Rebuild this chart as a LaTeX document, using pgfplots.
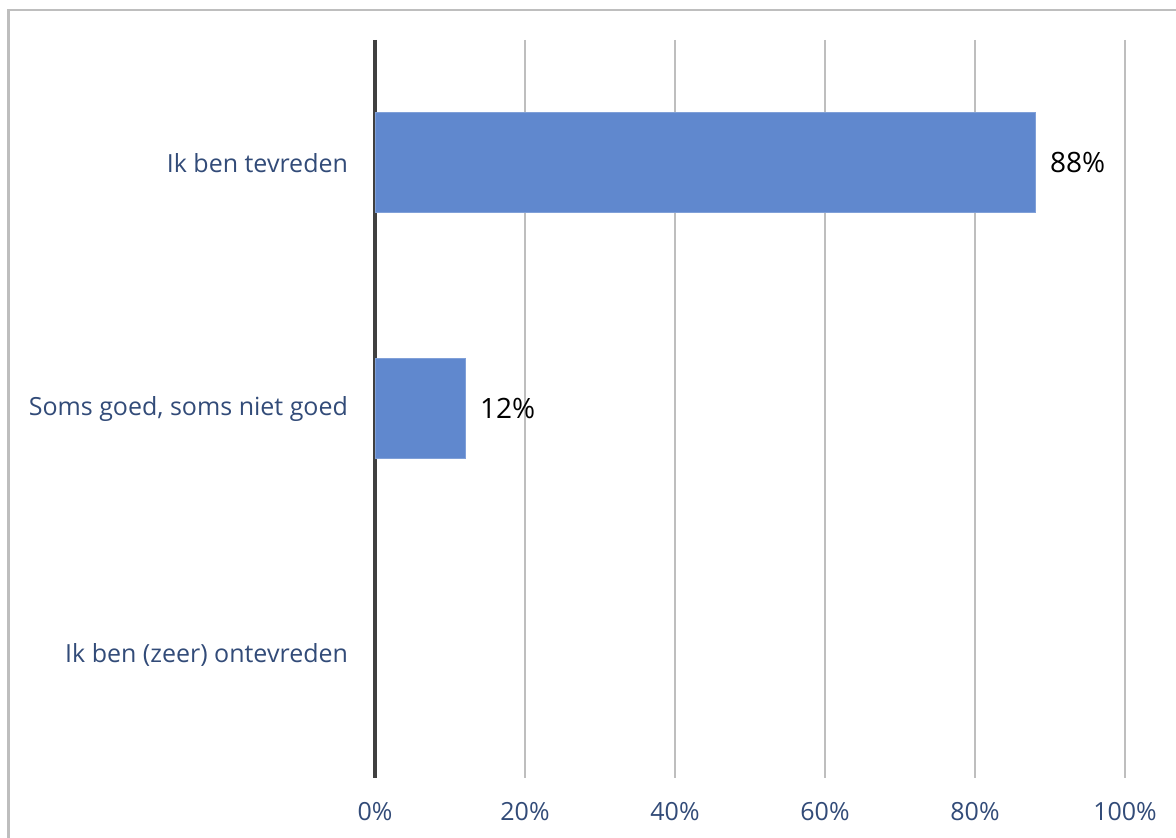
\documentclass[border=0pt]{standalone}
\usepackage{fontspec}
\setmainfont{Open Sans}
\usepackage{pgfplots}
\pgfplotsset{compat=1.18}
\definecolor{lbl}{RGB}{50,75,120}
\definecolor{barc}{RGB}{96,136,206}
\definecolor{gridc}{RGB}{190,190,190}
\definecolor{framec}{RGB}{190,190,190}
\begin{document}
\begin{tikzpicture}[x=1pt,y=1pt]
\useasboundingbox (0,0) rectangle (588,419);
\draw[framec, line width=1.2pt] (4.3,0) -- (4.3,414) -- (588,414);
\begin{axis}[
  at={(187.5pt,30pt)}, anchor=south west,
  scale only axis, width=375pt, height=369pt,
  xbar, bar width=50pt,
  xmin=0, xmax=100,
  ymin=-0.5, ymax=2.5,
  y dir=reverse,
  xtick={0,20,40,60,80,100},
  xticklabels={0\%,20\%,40\%,60\%,80\%,100\%},
  ytick={0,1,2},
  yticklabels={Ik ben tevreden, {Soms goed, soms niet goed}, Ik ben (zeer) ontevreden},
  major tick length=0pt,
  xmajorgrids, grid style={gridc, line width=0.6pt},
  axis y line*=left, axis x line*=bottom,
  x axis line style={draw=none},
  y axis line style={draw=black!75, line width=1.6pt},
  tick label style={font=\fontsize{12.5}{15}\selectfont, text=lbl},
  xticklabel style={yshift=-8.5pt},
  yticklabel style={xshift=-10pt},
  /pgf/number format/assume math mode=true,
  nodes near coords={\pgfmathprintnumber{\pgfplotspointmeta}\%},
  nodes near coords style={font=\fontsize{14}{16}\selectfont, text=black, anchor=west, xshift=4pt},
  point meta=x,
]
\addplot[fill=barc, draw=barc!80!white, line width=0.5pt] coordinates {(88,0) (12,1)};
\end{axis}
\end{tikzpicture}
\end{document}
